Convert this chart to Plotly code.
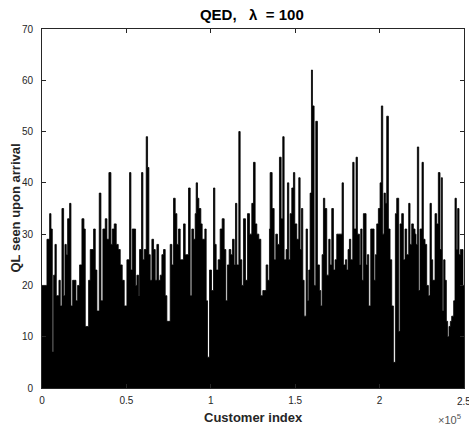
import plotly.graph_objects as go

# Customer index (read positions) and queue length seen upon arrival (envelope)
customer_index = [
    0, 2940, 4518, 5308, 6097, 6886, 7675, 8464, 10043, 10832, 11819, 12805, 13594, 14383, 15173,
    16356, 17146, 18132, 19119, 20105, 21092, 22275, 23657, 24840, 25630, 26616, 27603, 28589,
    29576, 30562, 31549, 32535, 33916, 34903, 36086, 37468, 38454, 39638, 40822, 41611, 42795,
    43978, 45162, 46346, 47530, 48714,
    50300, 51878, 52668, 53457, 54641, 55430, 56219, 57206, 57797, 58981, 59770, 60560, 61743,
    62533, 63322, 64111, 65098, 66084, 67071, 68057, 69044, 70030, 71017, 72003, 72990, 73976,
    74963, 75949, 76936, 77922, 78909, 79895, 80882, 81868, 82855, 83841, 84828, 85814, 86801,
    87787, 88774, 89760, 90747, 91338, 92128, 92917, 94101, 94890, 95679,
    96476, 97265, 98055, 99238, 100422, 101606, 102395, 103184, 104368, 105552, 106736, 107920,
    108906, 109893, 110879, 111866, 112852, 113839, 114628, 115417, 116601, 117390, 118377,
    119363, 120547, 121731, 122914, 124296, 125282, 126269, 127255, 128439, 129623, 130806,
    131793, 132779, 133766, 134752, 135147, 136331, 137515, 138501, 139488, 140671, 141658,
    142644, 143434,
    144625, 145415, 146204, 146993, 147980, 148966, 149755, 150939, 152123, 152912, 153701,
    154490, 155280, 156463, 157253, 158042, 158831, 159620, 160212, 161199, 162185, 163172,
    164355, 165145, 165934, 166723, 167512, 168696, 169880, 170669, 171656, 172642, 173629,
    174615, 175602, 176588, 177772, 178561, 179745, 180534, 181323, 182112, 182902, 184085,
    184875, 186058, 186848, 188031, 188821, 189610, 190399,
    191985, 192775, 193564, 194748, 195931, 196721, 197510, 198299, 199286, 200272, 201061,
    201850, 202640, 203429, 204218, 205205, 206191, 207178, 208164, 209348, 210137, 211321,
    212110, 213097, 214083, 215070, 216056, 217240, 218029, 219016, 220002, 220989, 221580,
    222370, 223159, 223948, 225132, 225921, 226908, 227894, 228881, 229867, 230656, 231446,
    232827, 233813, 234800, 235786, 236575,
    237175, 237964, 238753, 239542, 240332, 241121, 241910, 242699, 243883, 244672, 245462,
    246251, 247040, 247829, 248618, 249408, 250000,
]

queue_length = [
    20, 29, 34, 31, 7, 22, 28, 18, 21, 16, 35, 18, 28, 26, 33,
    36, 16, 21, 21, 17, 20, 24, 33, 31, 12, 12, 21, 27,
    27, 31, 23, 15, 38, 17, 31, 33, 29, 42, 28, 31, 32,
    28, 27, 24, 21, 16,
    25, 42, 23, 31, 31, 20, 22, 18, 27, 42, 25, 27, 49,
    43, 26, 21, 29, 27, 21, 28, 21, 22, 26, 27, 18, 13,
    13, 28, 24, 37, 34, 28, 31, 25, 25, 32, 26, 26, 39,
    18, 31, 29, 34, 40, 37, 35, 32, 29, 29,
    31, 17, 6, 23, 19, 39, 28, 23, 25, 31, 33, 27,
    17, 24, 27, 26, 29, 24, 36, 24, 50, 25, 20,
    33, 21, 34, 30, 36, 44, 32, 30, 29, 18, 19,
    19, 24, 21, 31, 42, 35, 25, 30, 28, 45, 33,
    49, 25,
    27, 40, 25, 34, 39, 42, 32, 29, 41, 27, 35,
    21, 14, 31, 17, 23, 38, 62, 55, 20, 52, 24,
    19, 16, 26, 37, 35, 22, 29, 24, 35, 23, 25,
    30, 30, 30, 40, 24, 25, 23, 27, 29, 25, 44,
    31, 45, 30, 24, 31, 21, 34,
    24, 26, 16, 31, 31, 21, 26, 32, 35, 40, 55,
    30, 38, 36, 53, 31, 25, 16, 5, 34, 37, 11,
    32, 34, 25, 31, 26, 36, 28, 32, 31, 30, 28,
    47, 19, 31, 44, 29, 28, 20, 18, 36, 25, 21,
    34, 32, 42, 27, 41,
    15, 25, 21, 13, 10, 12, 13, 14, 17, 37, 27,
    35, 26, 27, 27, 20, 20,
]

x_tick_values = [0, 50000, 100000, 150000, 200000, 250000]
x_tick_labels = ["0", "0.5", "1", "1.5", "2", "2.5"]
y_tick_values = [0, 10, 20, 30, 40, 50, 60, 70]

FONT = "Liberation Sans, Arial, Helvetica, sans-serif"
AX = "#262626"

fig = go.Figure()
fig.add_trace(go.Scatter(
    x=customer_index, y=queue_length,
    mode="lines", line=dict(color="black", width=0.8, shape="hv"),
    fill="tozeroy", fillcolor="black", hoverinfo="skip", showlegend=False,
))

# last tick label sits on the figure edge: draw it as an annotation so it does not push margins
shown_labels = x_tick_labels[:-1] + [""]

fig.update_layout(
    width=469, height=425,
    margin=dict(l=42, r=5, t=29, b=37),
    paper_bgcolor="white", plot_bgcolor="white",
    font=dict(family=FONT, color=AX, size=10),
    title=dict(
        text="<b>QED,\u00a0\u00a0\u00a0λ\u00a0 = 100</b>",
        x=0.537, xanchor="center", y=1 - 15 / 425, yanchor="middle",
        font=dict(family=FONT, size=15, color="black"),
    ),
    xaxis=dict(
        range=[0, 250000], tickvals=x_tick_values, ticktext=shown_labels,
        ticks="inside", ticklen=4, tickwidth=0.8, tickcolor=AX,
        showline=True, linecolor=AX, linewidth=0.8, mirror="ticks",
        showgrid=False, zeroline=False, tickfont=dict(size=10, color=AX),
        ticklabelstandoff=3,
    ),
    yaxis=dict(
        range=[0, 70], tickvals=y_tick_values,
        ticks="inside", ticklen=4, tickwidth=0.8, tickcolor=AX,
        showline=True, linecolor=AX, linewidth=0.8, mirror="ticks",
        showgrid=False, zeroline=False, tickfont=dict(size=10, color=AX),
        ticklabelstandoff=6,
    ),
    annotations=[
        dict(text=x_tick_labels[-1], xref="x", yref="paper",
             x=x_tick_values[-1], y=(388 - 401.5) / 359, xanchor="center", yanchor="middle",
             showarrow=False, font=dict(family=FONT, size=10, color=AX)),
        dict(text="<b>Customer index</b>", xref="paper", yref="paper",
             x=0.5, y=(388 - 417.5) / 359, xanchor="center", yanchor="middle",
             showarrow=False, font=dict(family=FONT, size=13, color=AX)),
        dict(text="<b>QL seen upon arrival</b>", xref="paper", yref="paper",
             x=(15 - 42) / 422, y=0.5, xanchor="center", yanchor="middle",
             textangle=-90, showarrow=False, font=dict(family=FONT, size=13, color=AX)),
        dict(text="×10<sup>5</sup>", xref="paper", yref="paper",
             x=0.997, y=(388 - 419) / 359, xanchor="right", yanchor="middle",
             showarrow=False, font=dict(family=FONT, size=11, color="#555555")),
    ],
)

fig.write_html(
    "out.html",
    config={"displayModeBar": False},
    post_script="document.body.style.margin='0';document.body.style.padding='0';",
)
